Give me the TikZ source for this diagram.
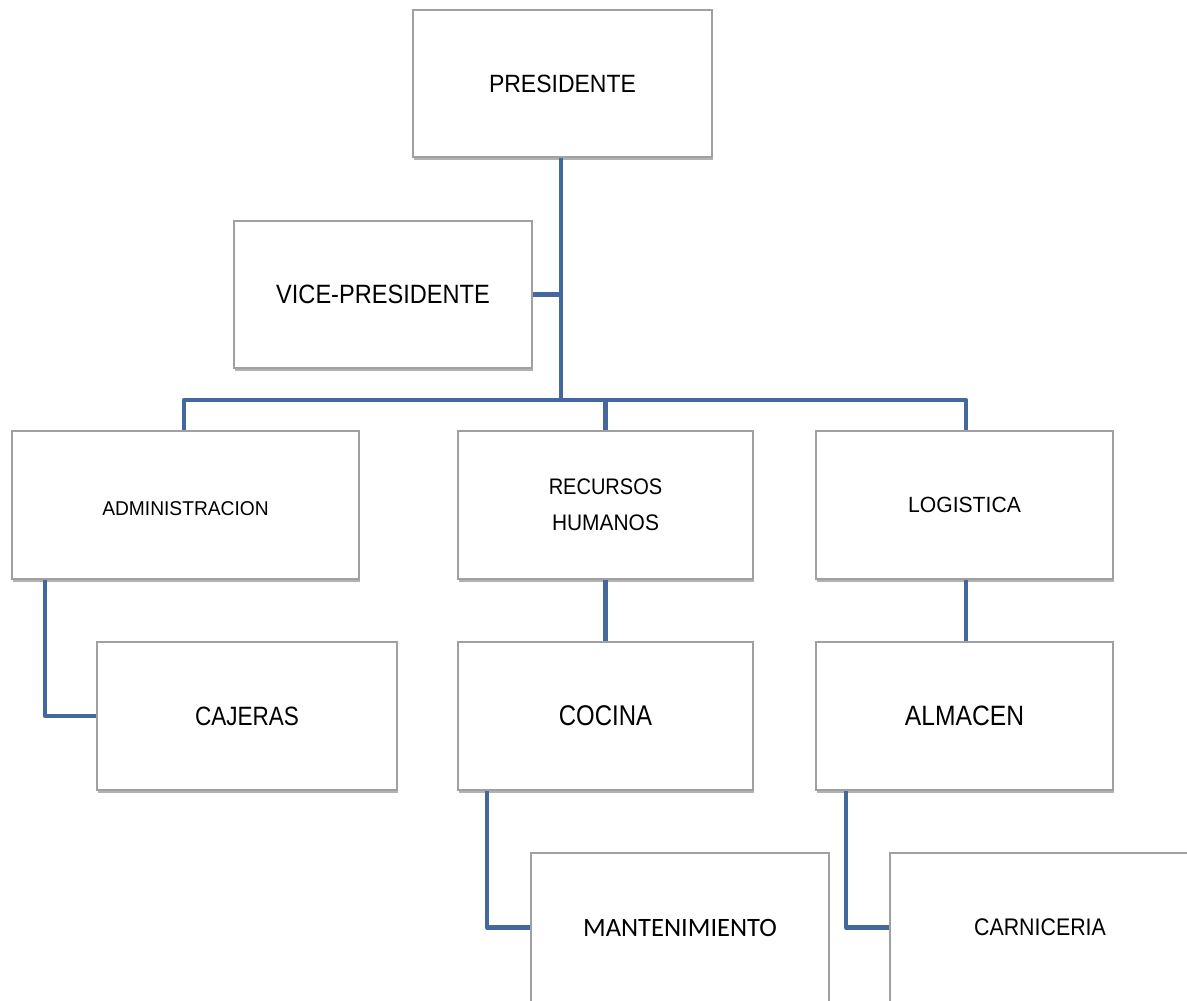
\documentclass[tikz,border=0pt]{standalone}
\usepackage{fontspec}
\setmainfont{Liberation Sans}
\newfontfamily\califont{Carlito}
\usetikzlibrary{shadows,calc}
\definecolor{linkblue}{RGB}{66,104,158}
\definecolor{boxgray}{RGB}{160,160,160}
\newcommand{\nt}[3]{\fontsize{#2}{#2}\selectfont\scalebox{#1}[1]{#3}}
\begin{document}
\begin{tikzpicture}[x=1pt,y=-1pt,
  orgbox/.style={draw=boxgray, line width=1.6pt, fill=white, inner sep=0pt,
     minimum height=147pt, align=center,
     drop shadow={shadow xshift=1pt, shadow yshift=-2.5pt, opacity=0.3, fill=black}},
  link/.style={draw=linkblue, line width=4.5pt, line join=round}]
\useasboundingbox (0,0) rectangle (1187,1001);
\clip (0,0) rectangle (1187,1001);
\fill[white] (0,0) rectangle (1187,1001);

\node[orgbox, minimum width=299pt] (pres) at (562.5,83.5) {\nt{0.92}{25}{PRESIDENTE}};
\node[orgbox, minimum width=298pt] (vice) at (383,294.5) {\nt{0.89}{26.5}{VICE-PRESIDENTE}};
\node[orgbox, minimum width=347pt, minimum height=148pt] (admin) at (185.5,505) {\raisebox{-4pt}[\height][\depth]{\nt{0.96}{20}{ADMINISTRACION}}};
\node[orgbox, minimum width=295pt, minimum height=148pt, font=\fontsize{22.5}{36}\selectfont] (rrhh) at (605.5,505) {\scalebox{0.89}[1]{RECURSOS}\\\scalebox{0.93}[1]{HUMANOS}};
\node[orgbox, minimum width=297pt, minimum height=148pt] (logi) at (964.5,505) {\nt{0.96}{22}{LOGISTICA}};
\node[orgbox, minimum width=300pt, minimum height=148pt] (caj) at (247,716) {\nt{0.85}{26.5}{CAJERAS}};
\node[orgbox, minimum width=295pt, minimum height=148pt] (coc) at (605.5,716) {\nt{0.84}{28.5}{COCINA}};
\node[orgbox, minimum width=297pt, minimum height=148pt] (alm) at (964.5,716) {\nt{0.88}{28}{ALMACEN}};
\node[orgbox, minimum width=298pt, minimum height=149pt] (mant) at (680,927.5) {\califont\fontsize{26.5}{26.5}\selectfont MANTENIMIENTO};
\node[orgbox, minimum width=300pt, minimum height=149pt] (carn) at (1040,927.5) {\nt{0.89}{24}{CARNICERIA}};

\coordinate (bar) at (561,400);
\draw[link] ([xshift=-1.5pt]pres.south) -- ([xshift=-1.5pt]pres.south |- bar);
\draw[link] (vice.east) -- (vice.east -| bar);
\draw[link] ([xshift=-1.5pt]admin.north) |- ([xshift=1.5pt]logi.north |- bar) -- ([xshift=1.5pt]logi.north);
\draw[link] (rrhh.north) -- (rrhh.north |- bar);
\draw[link] (rrhh.south) -- (coc.north);
\draw[link] ([xshift=1.5pt]logi.south) -- ([xshift=1.5pt]alm.north);
\draw[link] ([xshift=34pt]admin.south west) |- (caj.west);
\draw[link] ([xshift=30pt]coc.south west) |- (mant.west);
\draw[link] ([xshift=31pt]alm.south west) |- (carn.west);
\end{tikzpicture}
\end{document}
